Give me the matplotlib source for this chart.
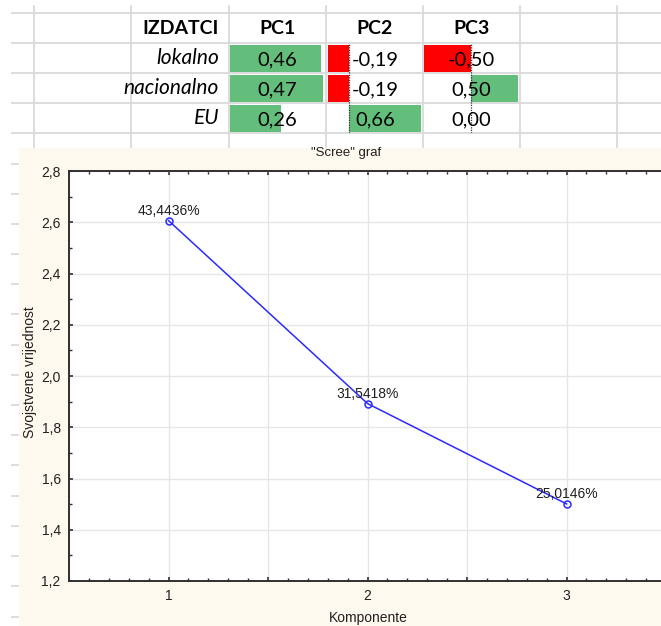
import matplotlib.pyplot as plt
from matplotlib.patches import Rectangle
from matplotlib.ticker import MultipleLocator, FuncFormatter
import matplotlib.transforms as mtransforms

# table data (Excel part)
rows = ['lokalno', 'nacionalno', 'EU']
pcs = ['PC1', 'PC2', 'PC3']
pc1 = [0.46, 0.47, 0.26]
pc2 = [-0.19, -0.19, 0.66]
pc3 = [-0.50, 0.50, 0.00]

# scree data
komponente = [1, 2, 3]
eigen = [2.6066, 1.8925, 1.5009]
postotak = [43.4436, 31.5418, 25.0146]

W, H = 661, 626
fig = plt.figure(figsize=(W / 100, H / 100), dpi=100)

def px_axes(x0, y0, x1, y1):
    return fig.add_axes([x0 / W, 1 - y1 / H, (x1 - x0) / W, (y1 - y0) / H])

def comma(v, fmt='{:.2f}'):
    return fmt.format(v).replace('.', ',')

# background with excel grid
bg = fig.add_axes([0, 0, 1, 1])
bg.set_xlim(0, W)
bg.set_ylim(H, 0)
bg.axis('off')
col_lines = [34, 131, 229, 326, 423, 520, 617]
for x in col_lines:
    bg.plot([x, x], [6, H], color='#dadada', lw=1.3, zorder=1)
y = 12.5
while y < H:
    bg.plot([12, W], [y, y], color='#dadada', lw=1.3, zorder=1)
    y += 30.2
bg.add_patch(Rectangle((19, 148), W, H, facecolor='#fef9ee', edgecolor='none', zorder=2))

# header row
tfont = 'Lato'
bg.text(219, 28, 'IZDATCI', ha='right', va='center', fontsize=14, fontweight='bold', family=tfont)
centers = [277.5, 374.5, 471.5]
for c, name in zip(centers, pcs):
    bg.text(c, 28, name, ha='center', va='center', fontsize=14, fontweight='bold', family=tfont)
for i, r in enumerate(rows):
    bg.text(219, 58.5 + 30 * i, r, ha='right', va='center', fontsize=15, style='italic', family=tfont)

# data bar columns
green = '#63be7b'
red = '#ff0000'
col_px = [(230, 324), (328, 421), (424, 518)]
for vals, (x0, x1) in zip([pc1, pc2, pc3], col_px):
    ax = px_axes(x0, 43, x1, 133)
    ax.set_facecolor('none')
    lo = min(0, min(vals))
    hi = max(vals)
    ax.set_xlim(lo, hi * 1.01 if lo == 0 else hi)
    ax.set_ylim(2.5, -0.5)
    ax.barh(range(len(vals)), vals, height=0.9,
            color=[green if v > 0 else red for v in vals])
    if lo < 0:
        ax.axvline(0, color='#333333', lw=0.9, ls=(0, (1, 1)))
    trans = mtransforms.blended_transform_factory(ax.transAxes, ax.transData)
    for i, v in enumerate(vals):
        ax.text(0.5 + (0.5 / (x1 - x0)), i + 0.05, comma(v), transform=trans, ha='center',
                va='center', fontsize=14.5, family=tfont)
    ax.axis('off')

# scree plot
cfont = 'Liberation Sans'
ax = px_axes(69, 171, 666, 581)
ax.set_facecolor('white')
ax.set_zorder(3)
ax.plot(komponente, eigen, color='#2a2aff', lw=1.1, marker='o', ms=5,
        mfc='none', mec='#2a2aff', mew=1.1)
for k, e, p in zip(komponente, eigen, postotak):
    ax.annotate(comma(p, '{:.4f}') + '%', (k, e), xytext=(0, 2), textcoords='offset points',
                ha='center', va='bottom', fontsize=10, family=cfont, color='#202020')
ax.set_xlim(0.5, 3.5)
ax.set_ylim(1.2, 2.8)
ax.xaxis.set_major_locator(MultipleLocator(0.5))
ax.xaxis.set_minor_locator(MultipleLocator(0.1))
ax.yaxis.set_major_locator(MultipleLocator(0.2))
ax.yaxis.set_minor_locator(MultipleLocator(0.1))
ax.xaxis.set_major_formatter(FuncFormatter(lambda v, p: str(int(v)) if float(v).is_integer() else ''))
ax.yaxis.set_major_formatter(FuncFormatter(lambda v, p: comma(v, '{:.1f}')))
ax.grid(True, which='major', color='#e6e6e6', lw=1)
ax.set_axisbelow(True)
ax.tick_params(which='both', direction='in', top=True, right=True, color='#303030',
               labelsize=10, labelcolor='#202020')
ax.tick_params(which='major', length=3, width=1.2, pad=6)
ax.tick_params(which='minor', length=2, width=1)
for lab in ax.get_xticklabels() + ax.get_yticklabels():
    lab.set_family(cfont)
for s in ax.spines.values():
    s.set_color('#303030')
    s.set_linewidth(1.4)

fig.text(346 / W, 1 - 153 / H, '"Scree" graf', ha='center', va='center', fontsize=9.5, family=cfont, color='#202020')
fig.text(30 / W, 1 - 372 / H, 'Svojstvene vrijednost', ha='center', va='center', rotation=90,
         fontsize=10, family=cfont, color='#202020')
fig.text(368 / W, 1 - 618 / H, 'Komponente', ha='center', va='center', fontsize=10, family=cfont, color='#202020')

fig.savefig('out.png', dpi=100)
